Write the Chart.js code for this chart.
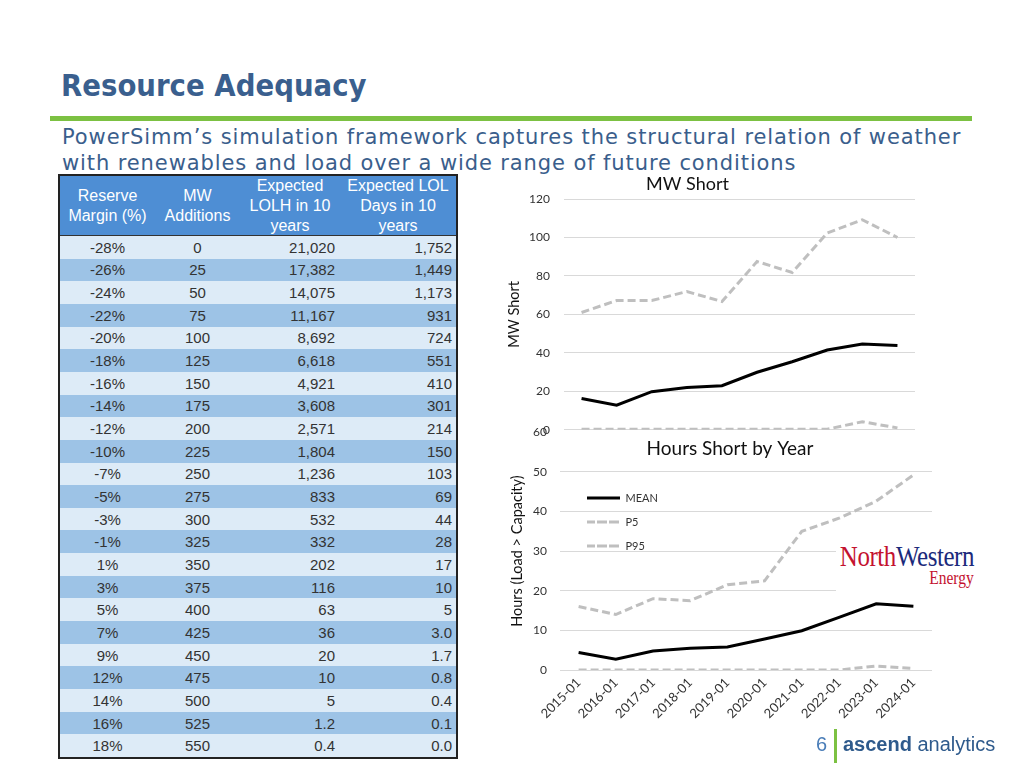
<!DOCTYPE html>
<html>
<head>
<meta charset="utf-8">
<script src="https://cdn.jsdelivr.net/npm/chart.js@4.4.0/dist/chart.umd.min.js"></script>
<style>
html,body{margin:0;padding:0;background:#fff;}
body{width:1024px;height:768px;position:relative;overflow:hidden;font-family:'Liberation Sans',Arial,sans-serif;}
#title{position:absolute;left:61px;top:68px;font:bold 30px/36px 'DejaVu Sans',sans-serif;color:#3A5F8E;white-space:nowrap;transform:scaleX(0.92);transform-origin:left top;}
#rule{position:absolute;left:50px;top:116px;width:922px;height:5px;background:#7CC142;}
#sub{position:absolute;left:62px;top:124px;font:21px/26px 'DejaVu Sans',sans-serif;letter-spacing:0.9px;color:#3A5E8C;white-space:nowrap;}
#tbl{position:absolute;left:58px;top:174px;width:396px;height:581px;border:2px solid #222;display:grid;grid-template-columns:95px 85px 100px 116px;grid-template-rows:60px repeat(23,1fr);}
.h{background:#4E8ED4;color:#fff;font-size:16px;line-height:20px;display:flex;align-items:center;justify-content:center;text-align:center;border-bottom:1px solid #333;}
.d{font-size:15px;color:#333;display:flex;align-items:center;}
.c{justify-content:center;}
.r{justify-content:flex-end;}
.r3{padding-right:5px;}
.r4{padding-right:4px;}
.l{background:#DDEBF7;}
.k{background:#9DC3E6;}
canvas{position:absolute;}
#c1{left:460px;top:170px;}
#c2{left:460px;top:412px;}
#nw{position:absolute;left:836px;top:540px;width:140px;height:52px;background:#fff;}
#nw1{position:absolute;right:2px;top:0px;font:29px 'Liberation Serif',serif;white-space:nowrap;transform:scaleX(0.86);transform-origin:right top;letter-spacing:-0.5px;}
#nw2{position:absolute;right:2px;top:28px;font:18px 'Liberation Serif',serif;color:#C4122F;transform:scaleX(0.86);transform-origin:right top;}
#pg{position:absolute;left:816px;top:733px;font:20px 'Liberation Sans',sans-serif;color:#4A7DB8;}
#bar{position:absolute;left:834px;top:729px;width:3px;height:34px;background:#7CC142;}
#asc{position:absolute;left:843px;top:733px;font:20px 'Liberation Sans',sans-serif;color:#2E5A8C;white-space:nowrap;}
</style>
</head>
<body>
<div id="title">Resource Adequacy</div>
<div id="rule"></div>
<div id="sub">PowerSimm’s simulation framework captures the structural relation of weather<br>with renewables and load over a wide range of future conditions</div>
<div id="tbl"></div>
<canvas id="c1" width="460" height="281"></canvas>
<canvas id="c2" width="480" height="348"></canvas>
<div id="nw"><div id="nw1"><span style="color:#C4122F">North</span><span style="color:#1B2A7B">Western</span></div><div id="nw2">Energy</div></div>
<div id="pg">6</div>
<div id="bar"></div>
<div id="asc"><b>ascend</b> analytics</div>
<script>
// ---- table data ----
const tableHeaders = [['Reserve','Margin (%)'],['MW','Additions'],['Expected','LOLH in 10','years'],['Expected LOL','Days in 10','years']];
const reserveMargin = ['-28%','-26%','-24%','-22%','-20%','-18%','-16%','-14%','-12%','-10%','-7%','-5%','-3%','-1%','1%','3%','5%','7%','9%','12%','14%','16%','18%'];
const mwAdditions = ['0','25','50','75','100','125','150','175','200','225','250','275','300','325','350','375','400','425','450','475','500','525','550'];
const expectedLOLH = ['21,020','17,382','14,075','11,167','8,692','6,618','4,921','3,608','2,571','1,804','1,236','833','532','332','202','116','63','36','20','10','5','1.2','0.4'];
const expectedLOLDays = ['1,752','1,449','1,173','931','724','551','410','301','214','150','103','69','44','28','17','10','5','3.0','1.7','0.8','0.4','0.1','0.0'];

// ---- chart data ----
const years = ['2015-01','2016-01','2017-01','2018-01','2019-01','2020-01','2021-01','2022-01','2023-01','2024-01'];
const mwMean = [16.3,12.8,19.8,22.0,22.9,29.9,35.4,41.5,44.6,43.8];
const mwP5   = [0.3,0.3,0.3,0.3,0.3,0.3,0.3,0.3,4.2,1.0];
const mwP95  = [61.0,67.2,67.2,71.9,66.7,87.5,81.8,102.3,109.2,100.0];
const hrMean = [4.4,2.7,4.8,5.5,5.8,7.8,9.9,13.3,16.7,16.1];
const hrP5   = [0,0,0,0,0,0,0,0,1.0,0.4];
const hrP95  = [16.0,14.0,18.0,17.5,21.5,22.5,35.0,38.3,42.6,49.2];
const seriesNames = ['MEAN','P5','P95'];
const mwTitle = 'MW Short';
const mwAxisTitle = 'MW Short';
const hrTitle = 'Hours Short by Year';
const hrAxisTitle = 'Hours (Load > Capacity)';

// ---- build table ----
const tbl = document.getElementById('tbl');
tableHeaders.forEach(lines => {
  const d = document.createElement('div');
  d.className = 'h';
  d.innerHTML = lines.join('<br>');
  tbl.appendChild(d);
});
reserveMargin.forEach((rm, i) => {
  const bg = i % 2 === 0 ? 'l' : 'k';
  const vals = [rm, mwAdditions[i], expectedLOLH[i], expectedLOLDays[i]];
  const cls = ['c','c','r r3','r r4'];
  vals.forEach((v, j) => {
    const d = document.createElement('div');
    d.className = 'd ' + bg + ' ' + cls[j];
    d.textContent = v;
    tbl.appendChild(d);
  });
});

// ---- charts ----
Chart.defaults.font.family = 'Lato, "Open Sans", sans-serif';
Chart.defaults.color = '#333';

function makeSets(mean, p5, p95) {
  return [
    {label: seriesNames[0], data: mean, borderColor: '#000', backgroundColor: '#000', borderWidth: 3, pointRadius: 0, tension: 0},
    {label: seriesNames[1], data: p5, borderColor: '#BFBFBF', backgroundColor: '#BFBFBF', borderWidth: 3, borderDash: [8,4], pointRadius: 0, tension: 0},
    {label: seriesNames[2], data: p95, borderColor: '#BFBFBF', backgroundColor: '#BFBFBF', borderWidth: 3, borderDash: [8,4], pointRadius: 0, tension: 0}
  ];
}

new Chart(document.getElementById('c1'), {
  type: 'line',
  data: {labels: years, datasets: makeSets(mwMean, mwP5, mwP95)},
  options: {
    responsive: false, animation: false,
    layout: {padding: {left: 0, right: 5, top: 0, bottom: 0}},
    plugins: {
      legend: {display: false},
      tooltip: {enabled: false},
      title: {display: true, text: mwTitle, color: '#111', font: {size: 18, weight: 'normal'}, padding: {top: 3, bottom: 4.4}}
    },
    scales: {
      x: {display: false, offset: true},
      y: {
        min: 0, max: 120,
        ticks: {stepSize: 20, padding: 14, color: '#333', font: {size: 12}},
        grid: {color: '#D9D9D9', drawTicks: false},
        border: {display: false},
        title: {display: true, text: mwAxisTitle, color: '#111', font: {size: 14.5}, padding: {top: 46, bottom: 0}},
        afterFit: s => { s.width = 104; }
      }
    }
  }
});

const hoursTitlePlugin = {
  id: 'hoursTitle',
  afterDraw(chart) {
    const c = chart.ctx;
    c.save();
    c.font = '19px Lato, sans-serif';
    c.fillStyle = '#111';
    c.textAlign = 'center';
    c.textBaseline = 'middle';
    c.fillText(hrTitle, 270, 37);
    c.restore();
  }
};
const legendShiftPlugin = {
  id: 'legendShift',
  afterLayout(chart) {
    if (chart.legend) { chart.legend.left += 14; chart.legend.right += 14; }
  }
};

new Chart(document.getElementById('c2'), {
  type: 'line',
  data: {labels: years, datasets: makeSets(hrMean, hrP5, hrP95)},
  plugins: [hoursTitlePlugin, legendShiftPlugin],
  options: {
    responsive: false, animation: false,
    layout: {padding: {left: 0, right: 8, top: 0, bottom: 30}},
    plugins: {
      tooltip: {enabled: false},
      legend: {
        position: 'chartArea', align: 'start',
        labels: {boxWidth: 33, boxHeight: 0, padding: 13, color: '#333', font: {size: 11}},
        title: {display: true, text: '', font: {size: 10}, padding: {top: 55.5, bottom: 0}}
      }
    },
    scales: {
      x: {
        offset: true,
        grid: {display: false, drawTicks: false},
        border: {display: false},
        ticks: {minRotation: 45, maxRotation: 45, autoSkip: false, padding: 5, color: '#333', font: {size: 13}},
        afterFit: s => { s.height = 60; }
      },
      y: {
        min: 0, max: 60,
        ticks: {stepSize: 10, padding: 13, color: '#333', font: {size: 12}},
        grid: {color: ctx => (ctx.tick && ctx.tick.value === 60) ? 'rgba(0,0,0,0)' : '#D9D9D9', drawTicks: false},
        border: {display: false},
        title: {display: true, text: hrAxisTitle, color: '#111', font: {size: 14.5}, padding: {top: 49, bottom: 0}},
        afterFit: s => { s.width = 100; }
      }
    }
  }
});
</script>
</body>
</html>
